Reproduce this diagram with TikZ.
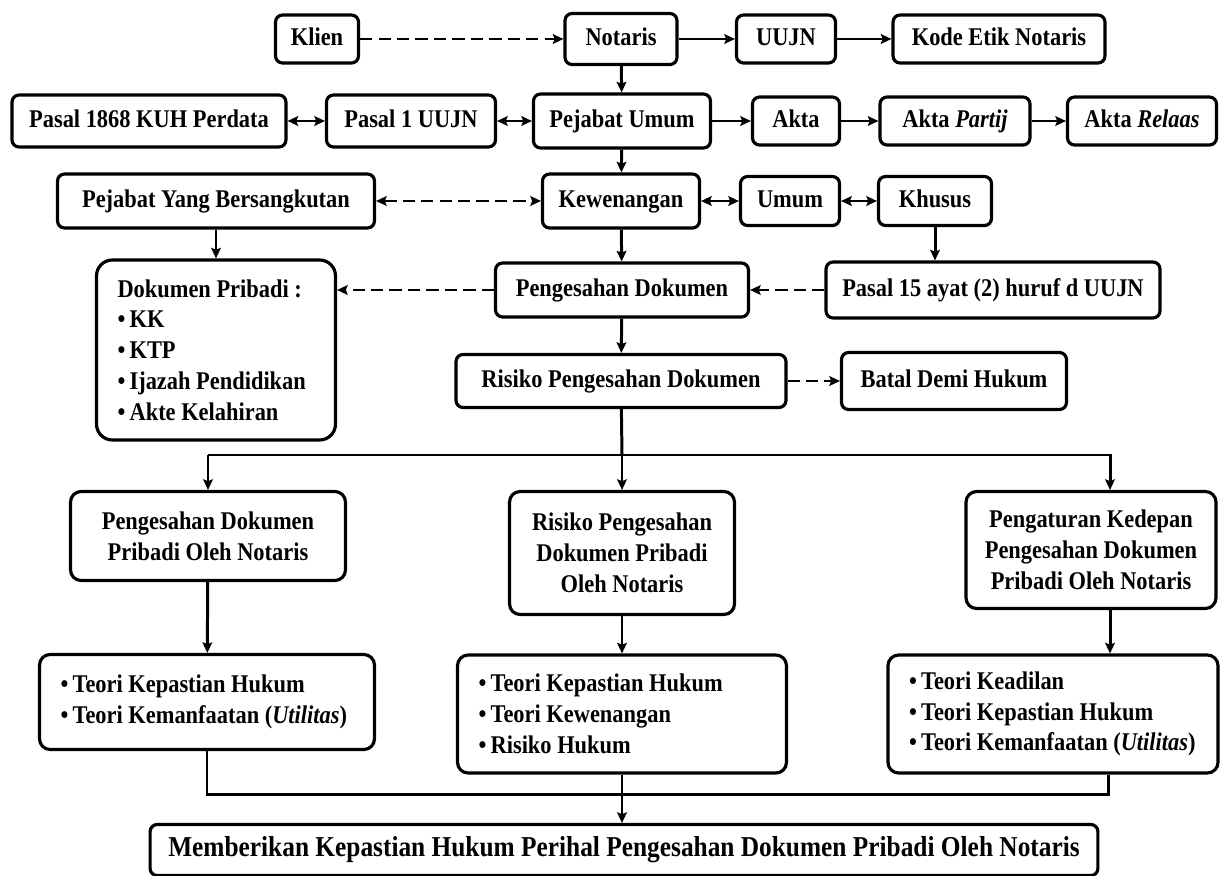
\documentclass[tikz,border=0pt]{standalone}
\usepackage{fontspec}
\setmainfont{Liberation Serif}[FakeStretch=0.88]
\usetikzlibrary{arrows.meta}
\hyphenpenalty=10000
\exhyphenpenalty=10000

\begin{document}
\begin{tikzpicture}[
    x=0.02cm, y=-0.02cm,
    >={Stealth[length=6pt,width=5.5pt,inset=1pt]},
    font=\fontsize{14.5}{17.5}\selectfont\bfseries,
    box/.style={
        draw, rounded corners=4pt,
        line width=1.8pt,
        inner sep=1pt,
        text height=10pt,
        text depth=3pt,
        align=center
    },
    bigbox/.style={
        draw, rounded corners=6pt,
        line width=1.8pt,
        inner sep=1pt,
        align=center
    },
    listbox/.style={
        draw, rounded corners=6pt,
        line width=1.8pt,
        inner xsep=0.42cm,
        inner ysep=1pt,
        align=flush left
    },
    link/.style={
        line width=1.7pt
    },
    dlink/.style={
        line width=1.7pt,
        dash pattern=on 7pt off 3.5pt
    }
]

\useasboundingbox (0,0) rectangle (1221,876);

\node[box, minimum width=1.66cm, minimum height=0.96cm] (klien) at (317,39) {Klien};
\node[box, minimum width=2.24cm, minimum height=1.02cm] (notaris) at (621,39) {Notaris};
\node[box, minimum width=1.98cm, minimum height=0.96cm] (uujn) at (786,39) {UUJN};
\node[box, minimum width=4.24cm, minimum height=0.96cm] (kode) at (999,39) {Kode Etik Notaris};

\draw[dlink,->] (klien) -- (notaris);
\draw[link,->] (notaris) -- (uujn);
\draw[link,->] (uujn) -- (kode);

\node[box, minimum width=5.48cm, minimum height=1.04cm] (pasal1868) at (149,121) {Pasal 1868 KUH Perdata};
\node[box, minimum width=3.38cm, minimum height=1.04cm] (pasalsatu) at (411,121) {Pasal 1 UUJN};
\node[box, minimum width=3.54cm, minimum height=1.08cm] (pejabat) at (622,121) {Pejabat Umum};
\node[box, minimum width=1.74cm, minimum height=0.96cm] (akta) at (796,121) {Akta};
\node[box, minimum width=3.00cm, minimum height=0.96cm] (partij) at (955,121) {Akta \textit{Partij}};
\node[box, minimum width=2.98cm, minimum height=0.96cm] (relaas) at (1142,121) {Akta \textit{Relaas}};

\draw[link,->] (notaris) -- (pejabat);
\draw[link,<->] (pasal1868) -- (pasalsatu);
\draw[link,<->] (pasalsatu) -- (pejabat);
\draw[link,->] (pejabat) -- (akta);
\draw[link,->] (akta) -- (partij);
\draw[link,->] (partij) -- (relaas);

\node[box, minimum width=6.34cm, minimum height=1.08cm] (pyb) at (216,201) {Pejabat Yang Bersangkutan};
\node[box, minimum width=3.14cm, minimum height=1.08cm] (kewenangan) at (621,201) {Kewenangan};
\node[box, minimum width=1.98cm, minimum height=0.98cm] (umum) at (790,201) {Umum};
\node[box, minimum width=2.26cm, minimum height=0.98cm] (khusus) at (935,201) {Khusus};

\draw[link,->] (pejabat) -- (kewenangan);
\draw[dlink,<->] (pyb) -- (kewenangan);
\draw[link,<->] (kewenangan) -- (umum);
\draw[link,<->] (umum) -- (khusus);

\node[listbox, text width=3.94cm, minimum height=3.6cm, rounded corners=9pt] (dokumen) at (216,350) {Dokumen Pribadi :\\
\textbullet\,KK\\
\textbullet\,KTP\\
\textbullet\,Ijazah Pendidikan\\
\textbullet\,Akte Kelahiran};
\node[box, minimum width=5.06cm, minimum height=1.08cm] (pengesahan) at (622,290) {Pengesahan Dokumen};
\node[box, minimum width=6.68cm, minimum height=1.12cm] (pasallima) at (993,290) {Pasal 15 ayat (2) huruf d UUJN};

\draw[link,->] (pyb) -- (dokumen);
\draw[link,->] (kewenangan) -- (pengesahan);
\draw[link,->] (khusus) -- (khusus |- pasallima.north);
\draw[dlink,->] (pengesahan.west) -- (pengesahan.west -| dokumen.east);
\draw[dlink,->] (pasallima) -- (pengesahan);

\node[box, minimum width=6.60cm, minimum height=1.06cm] (risiko) at (621,381) {Risiko Pengesahan Dokumen};
\node[box, minimum width=4.50cm, minimum height=1.14cm] (batal) at (954,381) {Batal Demi Hukum};

\draw[link,->] (pengesahan) -- (risiko);
\draw[dlink,->] (risiko) -- (batal);

\node[bigbox, minimum width=5.50cm, minimum height=1.78cm] (pdpon) at (208,536) {Pengesahan Dokumen\\Pribadi Oleh Notaris};
\node[bigbox, minimum width=4.50cm, minimum height=2.46cm] (rdpon) at (622,553) {Risiko Pengesahan\\Dokumen Pribadi\\Oleh Notaris};
\node[bigbox, minimum width=5.00cm, minimum height=2.34cm] (kedepan) at (1091,550) {Pengaturan Kedepan\\Pengesahan Dokumen\\Pribadi Oleh Notaris};

\coordinate (split) at (622,455);
\coordinate (splitl) at (208,455);
\coordinate (splitr) at (1110,455);

\draw[link] (risiko) -- (split);
\draw[link,->] (split) -- (rdpon);
\draw[link,->] (splitl) -- (splitr) -- (splitr |- kedepan.north);
\draw[link,->] (splitl) -- (pdpon);

\node[listbox, text width=5.86cm, minimum height=1.90cm] (teorikiri) at (207,702) {\textbullet\,Teori Kepastian Hukum\\
\textbullet\,Teori~Kemanfaatan~(\textit{Utilitas})};
\node[listbox, text width=5.74cm, minimum height=2.36cm] (teoritengah) at (622,714) {\textbullet\,Teori Kepastian Hukum\\
\textbullet\,Teori Kewenangan\\
\textbullet\,Risiko Hukum};
\node[listbox, text width=5.76cm, minimum height=2.36cm] (teorikanan) at (1053,714) {\textbullet\,Teori Keadilan\\
\textbullet\,Teori Kepastian Hukum\\
\textbullet\,Teori~Kemanfaatan~(\textit{Utilitas})};

\draw[link,->] (pdpon) -- (teorikiri);
\draw[link,->] (rdpon) -- (teoritengah);
\draw[link,->] (kedepan.south -| splitr) -- (teorikanan.north -| splitr);

\node[box, minimum width=18.96cm, minimum height=1.02cm, font=\fontsize{16.4}{18}\selectfont\bfseries, text height=11pt, text depth=3.5pt] (hasil) at (624,850) {Memberikan Kepastian Hukum Perihal Pengesahan Dokumen Pribadi Oleh Notaris};

\coordinate (joinr) at (1108,794);

\draw[link] (teorikiri.south) |- (joinr) -- (joinr |- teorikanan.south);
\draw[link,->] (teoritengah) -- (teoritengah |- hasil.north);

\end{tikzpicture}
\end{document}
